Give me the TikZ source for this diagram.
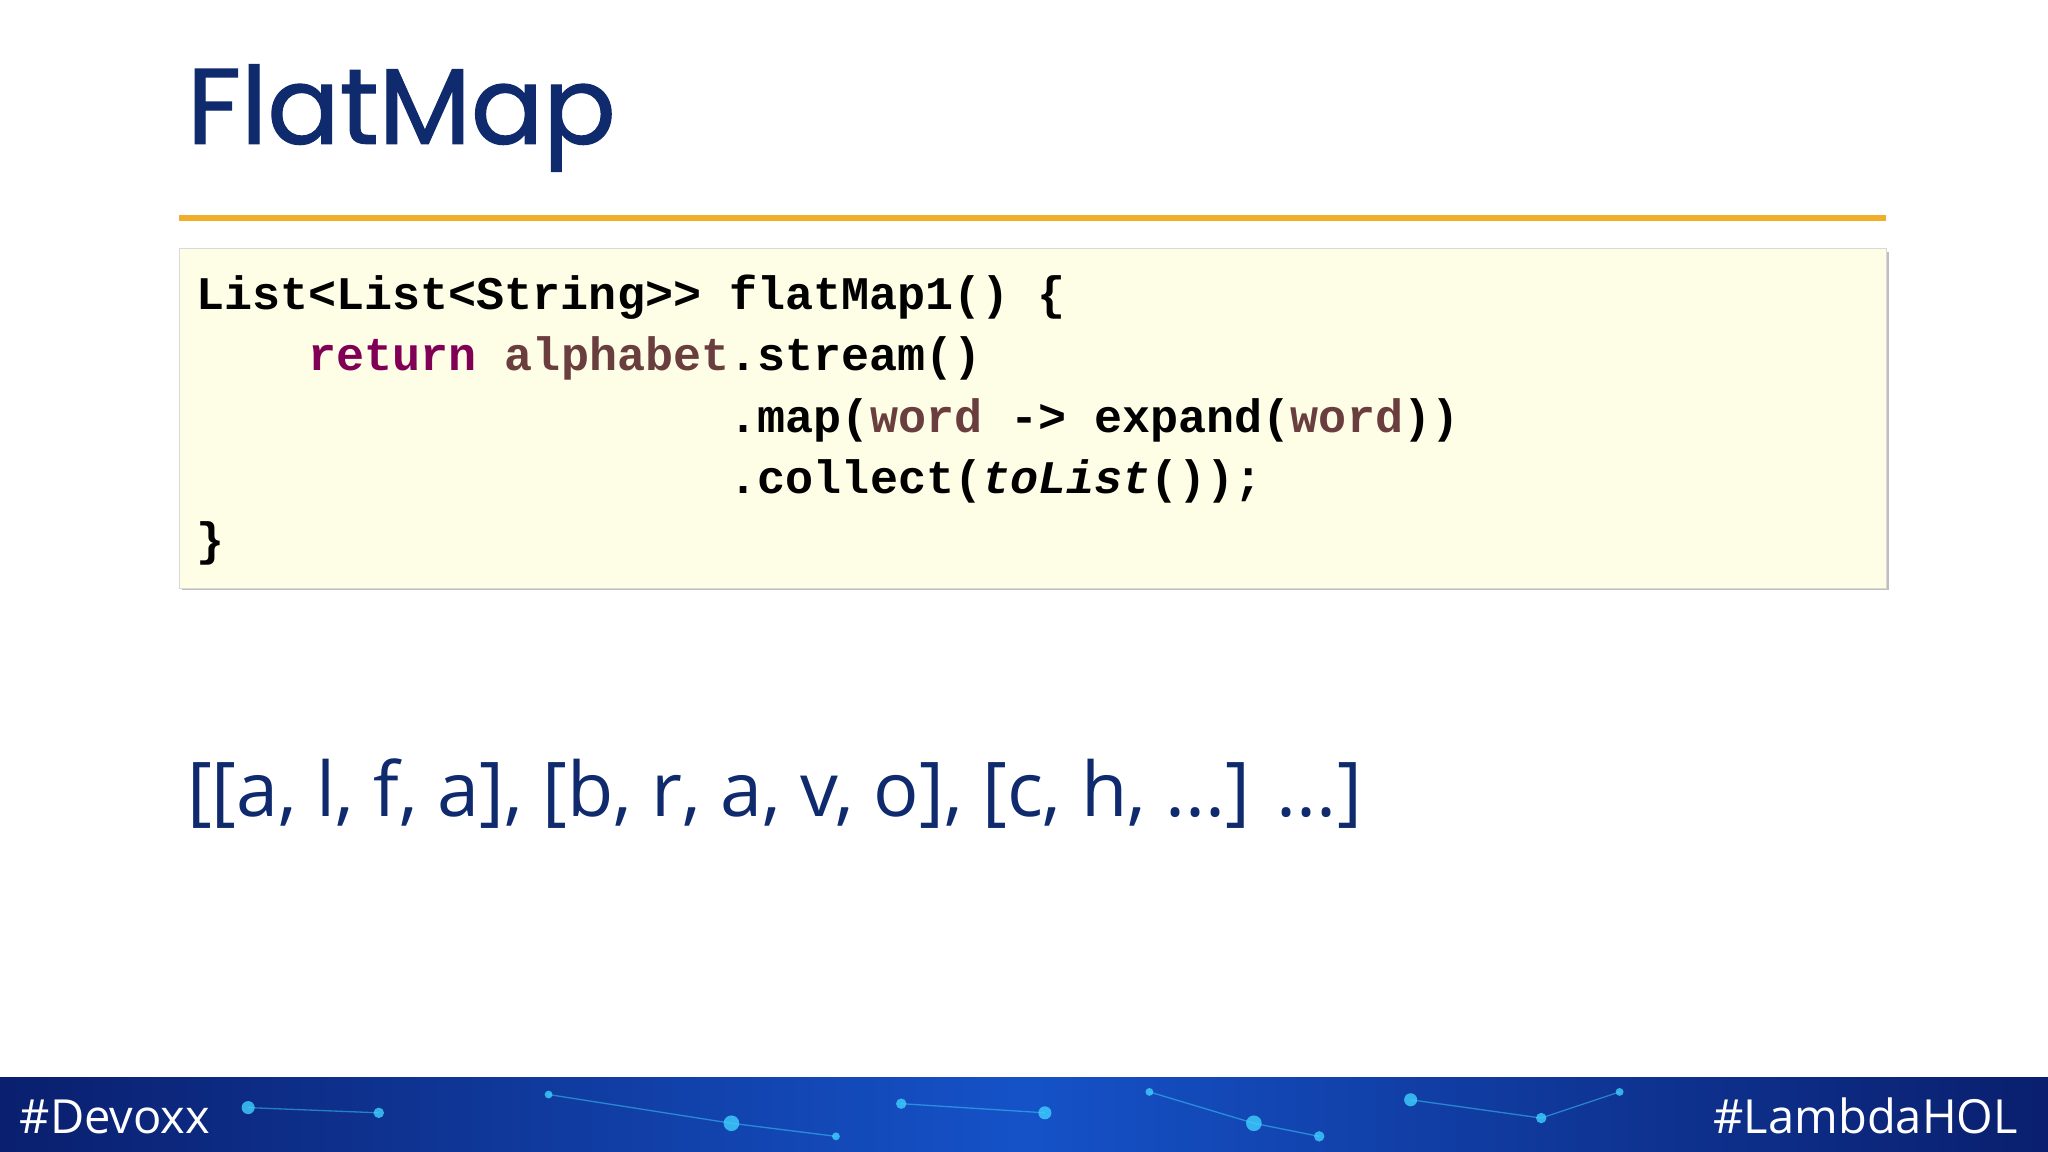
\documentclass[tikz,border=0pt]{standalone}
\usepackage{fontspec}
\setmainfont{Open Sans}
\newfontfamily\titlefont[FakeBold=1.2]{Poppins}
\setmonofont{Liberation Mono}
\definecolor{navy}{HTML}{0F2B6E}
\definecolor{kw}{HTML}{7F0055}
\definecolor{var}{HTML}{6A3E3E}
\definecolor{codebg}{HTML}{FEFEE6}
\definecolor{orng}{HTML}{F0AE2A}
\definecolor{bandA}{HTML}{0A1F6E}
\definecolor{bandB}{HTML}{1552C8}
\definecolor{glow}{HTML}{3FD0FF}
\begin{document}
\begin{tikzpicture}[x=1pt,y=-1pt,
  code/.style={anchor=base west,inner sep=0,font=\fontsize{35.8}{40}\ttfamily\bfseries},
  foot/.style={inner sep=0,text=white,font=\fontsize{36}{40}\selectfont}]
\useasboundingbox (0,0) rectangle (1568,882);
\fill[white!97!blue!2] (0,0) rectangle (1568,882);
\node[anchor=base west,inner sep=0,text=navy,font=\fontsize{82}{90}\titlefont] (title) at (143,110) {FlatMap};
\draw[orng,line width=4.5] (137,167) -- (1444,167);
\fill[black!25] (139,193) rectangle (1446,452);
\node[draw=black!15,fill=codebg,minimum width=1307,minimum height=260,anchor=north west,inner sep=0] (box) at (137,190) {};
\node[code] (l1) at (150,237) {List<List<String>{}> flatMap1() \{};
\node[code] (l2) at (236,284) {\textcolor{kw}{return} \textcolor{var}{alphabet}.stream()};
\node[code] (l3) at (558.5,331) {.map(\textcolor{var}{word} -> expand(\textcolor{var}{word}))};
\node[code] (l4) at (558.5,378) {.collect(\textit{toList}());};
\node[code] (l5) at (150,425) {\}};
\node[anchor=base west,inner sep=0,text=navy,font=\fontsize{57.8}{60}\selectfont] (res) at (143,625) {[[a, l, f, a], [b, r, a, v, o], [c, h, ...] ...]};
\shade[left color=bandA,right color=bandA,middle color=bandB] (0,825) rectangle (1568,882);
\foreach \x/\y/\r in {190/848/5,290/852/4,420/838/3,560/860/6,690/845/4,800/852/5,880/836/3,960/860/6,1080/842/5,1180/856/4,1240/836/3,640/870/3,1010/870/4}
  \fill[glow,opacity=0.8] (\x,\y) circle (\r);
\foreach \a/\b/\c/\d in {190/848/290/852,420/838/560/860,690/845/800/852,880/836/960/860,1080/842/1180/856,960/860/1010/870,560/860/640/870,1180/856/1240/836}
  \draw[glow,opacity=0.5,line width=1] (\a,\b) -- (\c,\d);
\node[foot,anchor=base west] (dev) at (15,868) {\#Devoxx};
\node[foot,anchor=base east] (lam) at (1545,868) {\#LambdaHOL};
\end{tikzpicture}
\end{document}
